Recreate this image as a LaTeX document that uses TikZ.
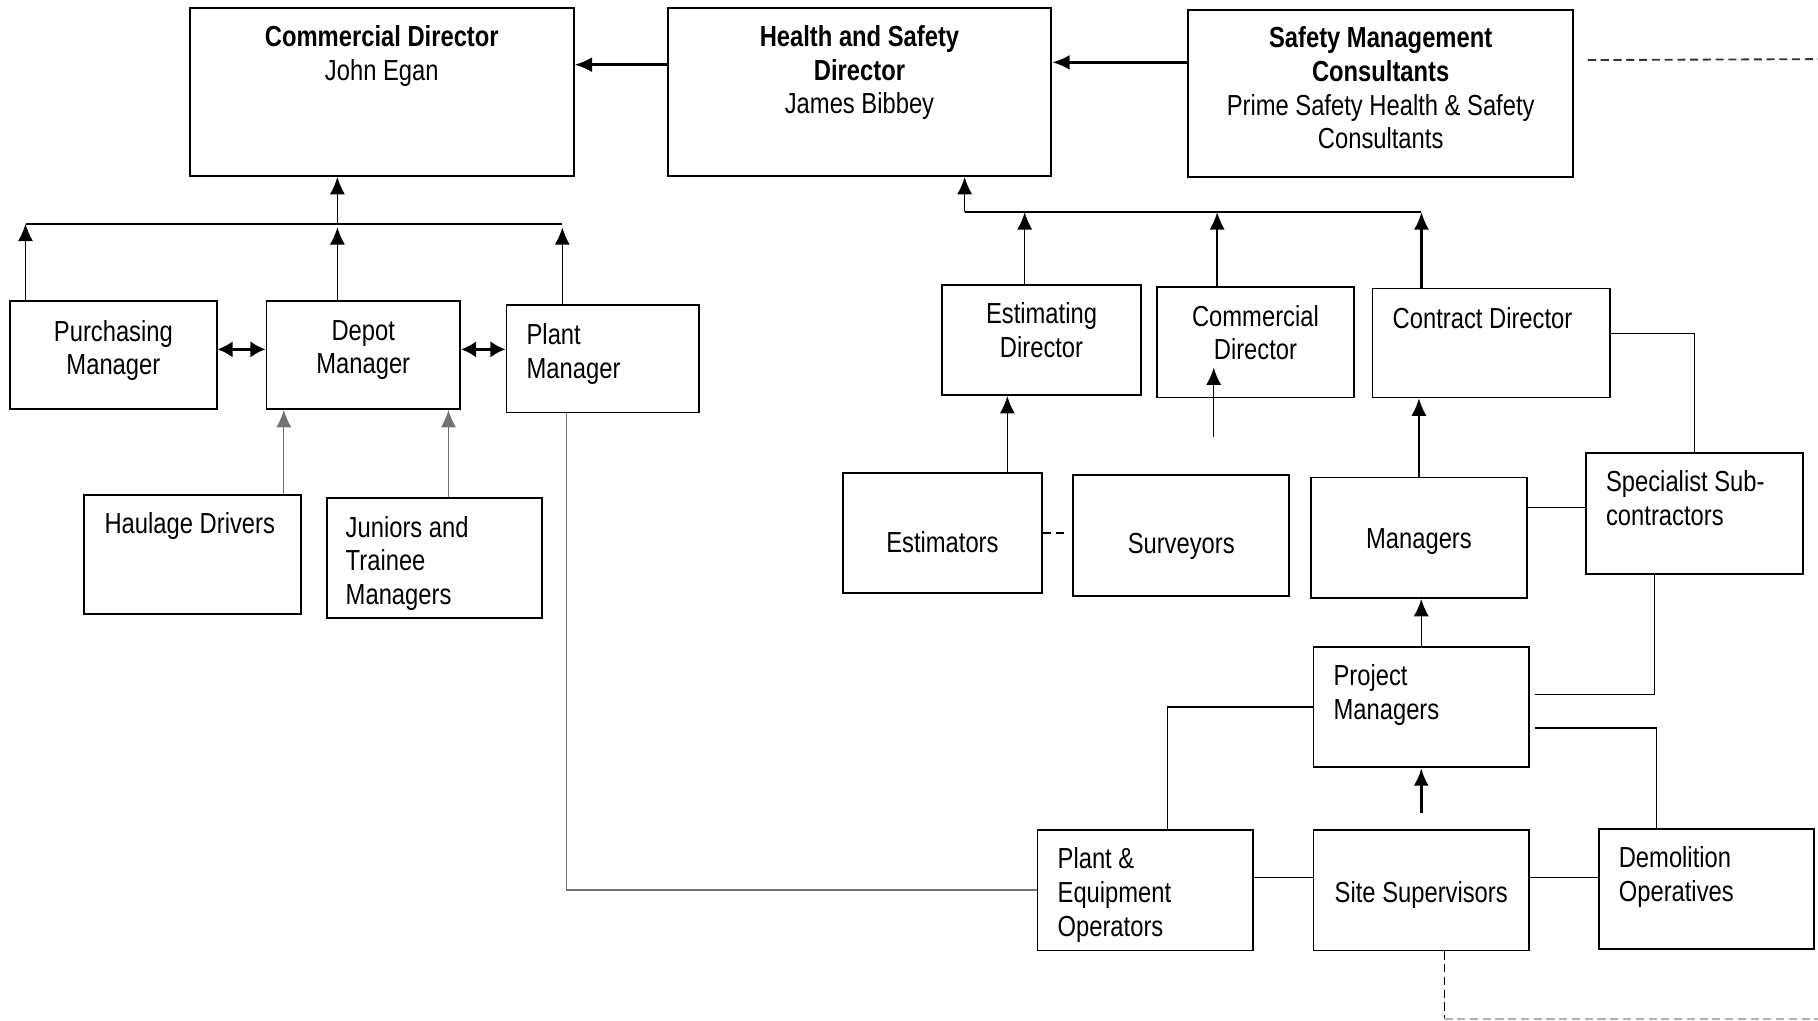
\documentclass[tikz,border=0pt]{standalone}
\usepackage{fontspec}
\setmainfont{Liberation Sans}[FakeStretch=0.82]
\usetikzlibrary{arrows.meta, positioning}

\tikzset{
  box/.style={draw, line width=1.6pt, anchor=north west, inner sep=0pt},
  txt/.style={inner sep=0pt, align=center, font=\fontsize{25}{29}\selectfont},
  ltxt/.style={txt, align=left},
  arr/.style={-{Latex[length=15pt,width=13pt]}, line width=1.3pt},
  dbl/.style={{Latex[length=13pt,width=14pt]}-{Latex[length=13pt,width=14pt]}, line width=2pt},
  lite/.style={line width=1pt, black!55},
  dash7/.style={line width=1.6pt, dash pattern=on 7pt off 4pt},
}

\begin{document}
\begin{tikzpicture}[x=1pt, y=-1pt]
    \useasboundingbox (0,0) rectangle (1568,880);

    % Top row
    \node[box, minimum width=331pt, minimum height=145pt] (cdA) at (163,6) {};
    \node[box, minimum width=331pt, minimum height=145pt] (hsd) at (575,6) {};
    \node[box, minimum width=332pt, minimum height=144pt] (smc) at (1024,8) {};
    \node[txt, below=16pt of cdA.north] {\textbf{Commercial Director}\\John Egan};
    \node[txt, below=16pt of hsd.north] {\textbf{Health and Safety}\\\textbf{Director}\\James Bibbey};
    \node[txt, below=15pt of smc.north] {\textbf{Safety Management}\\\textbf{Consultants}\\Prime Safety Health \& Safety\\Consultants};

    % Depot side
    \node[box, minimum width=178pt, minimum height=93pt] (pur) at (8,259) {};
    \node[box, minimum width=167pt, minimum height=93pt] (dep) at (229,259) {};
    \node[box, minimum width=166pt, minimum height=93pt] (plm) at (436,262) {};
    \node[box, minimum width=187pt, minimum height=103pt] (hau) at (72,426) {};
    \node[box, minimum width=186pt, minimum height=103pt] (jun) at (281,429) {};
    \node[txt, below=17pt of pur.north] {Purchasing\\Manager};
    \node[txt, below=17pt of dep.north] {Depot\\Manager};
    \node[ltxt, below right=17pt and 18pt of plm.north west] {Plant\\Manager};
    \node[ltxt, below right=16pt and 18pt of hau.north west] {Haulage Drivers};
    \node[ltxt, below right=16pt and 17pt of jun.north west] {Juniors and\\Trainee\\Managers};

    % Directors
    \node[box, minimum width=171pt, minimum height=95pt] (est) at (812,245) {};
    \node[box, minimum width=170pt, minimum height=95pt] (cdB) at (997,247) {};
    \node[box, minimum width=205pt, minimum height=94pt] (con) at (1183,248) {};
    \node[txt, below=16pt of est.north] {Estimating\\Director};
    \node[txt, below=16pt of cdB.north] {Commercial\\Director};
    \node[ltxt, below right=17pt and 18pt of con.north west] {Contract Director};

    % Staff
    \node[box, minimum width=172pt, minimum height=104pt] (estr) at (726,407) {};
    \node[box, minimum width=186pt, minimum height=104pt] (sur) at (925,409) {};
    \node[box, minimum width=186pt, minimum height=104pt] (man) at (1130,411) {};
    \node[box, minimum width=187pt, minimum height=104pt] (spc) at (1367,390) {};
    \node[box, minimum width=186pt, minimum height=104pt] (prm) at (1132,557) {};
    \node[box, minimum width=186pt, minimum height=104pt] (peo) at (894,715) {};
    \node[box, minimum width=186pt, minimum height=104pt] (sit) at (1132,715) {};
    \node[box, minimum width=186pt, minimum height=104pt] (dem) at (1378,714) {};
    \node[txt, below=51pt of estr.north] {Estimators};
    \node[txt, below=51pt of sur.north] {Surveyors};
    \node[txt, below=45pt of man.north] {Managers};
    \node[ltxt, below right=16pt and 18pt of spc.north west] {Specialist Sub-\\contractors};
    \node[ltxt, below right=16pt and 18pt of prm.north west] {Project\\Managers};
    \node[ltxt, below right=16pt and 18pt of peo.north west] {Plant \&\\Equipment\\Operators};
    \node[txt, below=45pt of sit.north] {Site Supervisors};
    \node[ltxt, below right=16pt and 18pt of dem.north west] {Demolition\\Operatives};

    % Bus lines and free ends
    \coordinate (busL) at (22,193);
    \coordinate (busC) at (291,193);
    \coordinate (busR) at (485,193);
    \coordinate (busD) at (832,183);
    \coordinate (busE) at (1226,183);
    \coordinate (offR) at (1568,51);
    \coordinate (offB) at (1568,879);

    % Top arrows
    \draw[arr, line width=2.4pt] ([yshift=23.5pt]hsd.west) -- ([yshift=23.5pt]hsd.west -| cdA.east);
    \draw[arr, line width=2.4pt] ([yshift=27pt]smc.west) -- ([yshift=27pt]smc.west -| hsd.east);
    \draw[dash7, black!80] ([xshift=12pt,yshift=29pt]smc.east) -- (offR);

    % Depot tree
    \draw[line width=1.3pt] (busL) -- (busR);
    \draw[arr] (busC) -- (busC |- cdA.south);
    \draw[arr] (pur.north -| busL) -- (busL);
    \draw[arr] (busC |- dep.north) -- ([yshift=-3pt]busC);
    \draw[arr] (plm.north -| busR) -- ([yshift=-3pt]busR);
    \draw[dbl] ([yshift=5pt]pur.east) -- ([yshift=5pt]pur.east -| dep.west);
    \draw[dbl] ([yshift=5pt]dep.east) -- ([yshift=5pt]dep.east -| plm.west);
    \draw[arr, lite] ([xshift=78.5pt]hau.north) -- ([xshift=78.5pt]hau.north |- dep.south);
    \draw[arr, lite] ([xshift=12pt]jun.north) -- ([xshift=12pt]jun.north |- dep.south);
    \draw[lite, line width=1.3pt] ([xshift=-31pt]plm.south) |- (peo.west);

    % Directors tree
    \draw[line width=1.3pt] (busD) -- (busE);
    \draw[arr] (busD) -- (busD |- hsd.south);
    \draw[arr] ([xshift=-14.5pt]est.north) -- ([xshift=-14.5pt]est.north |- busD);
    \draw[arr] ([xshift=-33pt]cdB.north) -- ([xshift=-33pt]cdB.north |- busD);
    \draw[arr, line width=2pt] (con.north -| busE) -- (busE);

    % Staff links
    \draw[arr] ([xshift=56pt]estr.north) -- ([xshift=56pt]estr.north |- est.south);
    \draw[arr] ([xshift=28pt,yshift=32pt]sur.north) -- ([xshift=28pt,yshift=92pt]sur.north);
    \draw[arr] (man.north) -- (man.north |- con.south);
    \draw[dash7, line width=1.2pt] (estr.east) -- ([xshift=-7pt]estr.east -| sur.west);
    \draw[line width=1.3pt] ([yshift=8pt]con.east) -| (spc.north);
    \draw[line width=1.3pt] ([yshift=26pt]man.east) -- ([yshift=26pt]man.east -| spc.west);
    \draw[arr] (prm.north) -- (prm.north |- man.south);
    \draw[line width=1.3pt] ([xshift=-34.5pt]spc.south) |- ([xshift=4pt,yshift=11pt]prm.east);
    \draw[line width=1.3pt] ([xshift=4pt,yshift=-18pt]prm.east) -| ([xshift=-43pt]dem.north);
    \draw[line width=1.3pt] (prm.west) -| ([xshift=19pt]peo.north);
    \draw[arr, line width=2.4pt] ([yshift=14pt]sit.north) -- (sit.north |- prm.south);
    \draw[line width=1.3pt] ([yshift=11pt]peo.east) -- ([yshift=11pt]peo.east -| sit.west);
    \draw[line width=1.3pt] ([yshift=11pt]sit.east) -- ([yshift=11pt]sit.east -| dem.west);
    \draw[dash7] ([xshift=20pt]sit.south) -- ([xshift=20pt]sit.south |- offB);
    \draw[dash7, black!30] ([xshift=20pt]sit.south |- offB) -- (offB);
\end{tikzpicture}
\end{document}
